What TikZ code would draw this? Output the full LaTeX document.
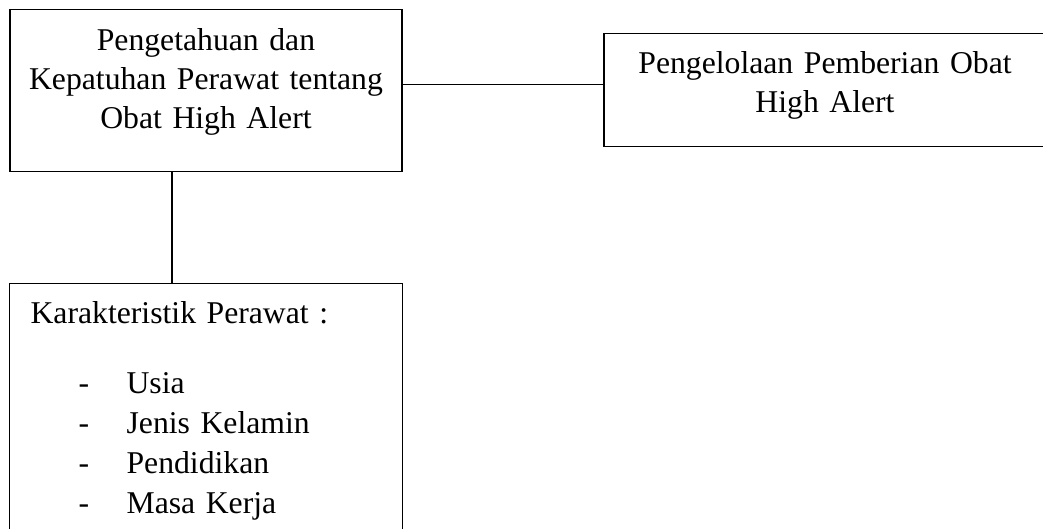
\documentclass[tikz,border=0pt]{standalone}
\usepackage{fontspec}
\setmainfont{Liberation Serif}
\usepackage{tikz}

\tikzset{
  kotak/.style={draw, line width=1.2pt, inner sep=0pt, font=\fontsize{31.7pt}{39pt}\selectfont},
  garis/.style={line width=1.2pt}
}

\begin{document}
\begin{tikzpicture}[x=1pt, y=-1pt]
\useasboundingbox (0,0) rectangle (1043,528);

% Box kiri atas (variabel independen)
\node[kotak, anchor=north, text width=392pt, align=center, text height=41pt, text depth=121pt]
  (pengetahuan) at (206,9) {Pengetahuan dan\\ Kepatuhan Perawat tentang\\ Obat High Alert};
% Box kanan (variabel dependen)
\node[kotak, anchor=north, text width=442pt, align=center, text height=40pt, text depth=73pt]
  (pengelolaan) at (825,33) {Pengelolaan Pemberian Obat\\ High Alert};
% Box bawah (karakteristik)
\node[kotak, font=\fontsize{31.7pt}{40pt}\selectfont, anchor=north west, inner xsep=21pt, text width=351pt, align=left, text height=40pt, text depth=212pt]
  (karakteristik) at (9,283) {Karakteristik Perawat :\\[30pt]
  \hspace*{48pt}\makebox[48pt][l]{-}Usia\\
  \hspace*{48pt}\makebox[48pt][l]{-}Jenis Kelamin\\
  \hspace*{48pt}\makebox[48pt][l]{-}Pendidikan\\
  \hspace*{48pt}\makebox[48pt][l]{-}Masa Kerja};

% Garis penghubung
\draw[garis] ([yshift=6pt]pengetahuan.east) -- ([yshift=6pt]pengetahuan.east -| pengelolaan.west);
\draw[garis] ([xshift=-34pt]pengetahuan.south) -- ([xshift=-34pt]pengetahuan.south |- karakteristik.north);

\end{tikzpicture}
\end{document}
